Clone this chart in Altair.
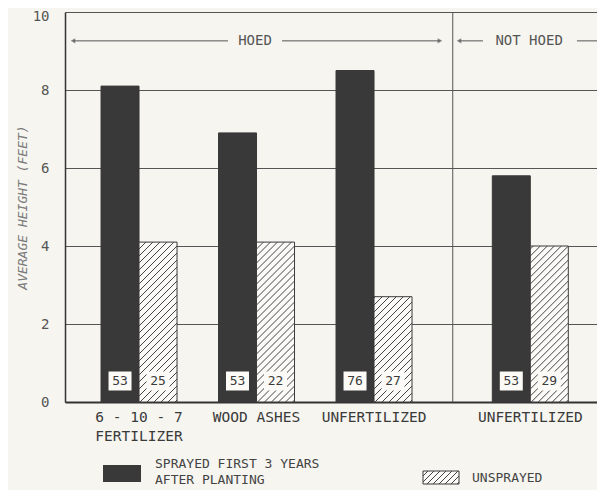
import altair as alt
import pandas as pd
import numpy as np

# ---------------- data ----------------
groups = ["6 - 10 - 7\nFERTILIZER", "WOOD ASHES", "UNFERTILIZED", "UNFERTILIZED"]
section = ["HOED", "HOED", "HOED", "NOT HOED"]
sprayed = [8.1, 6.9, 8.5, 5.8]
unsprayed = [4.1, 4.1, 2.7, 4.0]
n_sprayed = [53, 53, 76, 53]
n_unsprayed = [25, 22, 27, 29]
y_ticks = [0, 2, 4, 6, 8, 10]
legend_labels = ["SPRAYED FIRST 3 YEARS\nAFTER PLANTING", "UNSPRAYED"]
section_labels = ["HOED", "NOT  HOED"]

# ---------------- layout ----------------
W, H = 532, 390
PXU = 117.5                      # px per group unit
XMIN = 0.37
XMAX = XMIN + W / PXU
PYU = H / 10.0
group_pos = [1, 2, 3, 4.33]
DIVIDER = 3.67
BW = 38 / PXU                    # one bar width in x units
FONT = "DejaVu Sans Mono"
DARK = "#393939"
INK = "#3a3a3a"
BG = "#f6f5f0"

xs = alt.Scale(domain=[XMIN, XMAX], nice=False, zero=False)
ys = alt.Scale(domain=[0, 10], nice=False)

# bars
rows = []
for i, g in enumerate(groups):
    p = group_pos[i]
    rows.append(dict(g=i, kind="sprayed", x0=p - BW, x1=p, v=sprayed[i], n=n_sprayed[i]))
    rows.append(dict(g=i, kind="unsprayed", x0=p, x1=p + BW, v=unsprayed[i], n=n_unsprayed[i]))
bars = pd.DataFrame(rows)
bars["xc"] = (bars.x0 + bars.x1) / 2

# hatch segments for unsprayed bars (computed from bar extents)
STEP = 7.0
hrows = []
for _, r in bars[bars.kind == "unsprayed"].iterrows():
    w = (r.x1 - r.x0) * PXU
    h = r.v * PYU
    c = -w + 2
    while c < h:
        xa = max(0.0, -c)
        xb = min(w, h - c)
        if xb > xa:
            hrows.append(dict(x=r.x0 + xa / PXU, y=(xa + c) / PYU,
                              x2=r.x0 + xb / PXU, y2=(xb + c) / PYU))
        c += STEP
hatch = pd.DataFrame(hrows)

# number boxes
BOXW, BOXH, BOXC = 23, 19, 21
boxes = bars.copy()
boxes["bx0"] = boxes.xc - BOXW / 2 / PXU
boxes["bx1"] = boxes.xc + BOXW / 2 / PXU
boxes["by0"] = (BOXC - BOXH / 2) / PYU
boxes["by1"] = (BOXC + BOXH / 2) / PYU
boxes["by"] = BOXC / PYU

base = alt.Chart(bars)

dark_bars = base.transform_filter("datum.kind == 'sprayed'").mark_rect(
    fill=DARK, stroke=DARK, strokeWidth=1
).encode(
    x=alt.X("x0:Q", scale=xs, axis=alt.Axis(labels=False, ticks=False, grid=False,
                                            domainColor="#333", domainWidth=2, title=None)),
    x2="x1:Q",
    y=alt.Y("v:Q", scale=ys, axis=alt.Axis(values=y_ticks, grid=True, gridColor="#555",
                                           gridWidth=1, ticks=False, domainColor="#333",
                                           domainWidth=1.5, labelColor="#555", labelFontSize=14,
                                           labelFont=FONT, labelPadding=16,
                                           labelOffset=alt.condition("datum.value == 10",
                                                                     alt.value(4), alt.value(0)),
                                           title="AVERAGE  HEIGHT  (FEET)", titleFont=FONT,
                                           titleFontStyle="italic", titleFontWeight="normal",
                                           titleFontSize=13, titleColor="#7a7a7a",
                                           titlePadding=3)),
    y2=alt.datum(0),
)

hatch_bg = base.transform_filter("datum.kind == 'unsprayed'").mark_rect(
    fill="#fbfaf6", stroke=INK, strokeWidth=1
).encode(x=alt.X("x0:Q", scale=xs), x2="x1:Q", y=alt.Y("v:Q", scale=ys), y2=alt.datum(0))

hatch_lines = alt.Chart(hatch).mark_rule(color="#444", strokeWidth=1).encode(
    x=alt.X("x:Q", scale=xs), x2="x2:Q", y=alt.Y("y:Q", scale=ys), y2="y2:Q"
)

box_marks = alt.Chart(boxes).mark_rect(fill="#fbfaf6").encode(
    x=alt.X("bx0:Q", scale=xs), x2="bx1:Q", y=alt.Y("by0:Q", scale=ys), y2="by1:Q"
)
box_text = alt.Chart(boxes).mark_text(font=FONT, fontSize=13, color=INK, baseline="middle").encode(
    x=alt.X("xc:Q", scale=xs), y=alt.Y("by:Q", scale=ys), text="n:N"
)

divider = alt.Chart(pd.DataFrame({"x": [DIVIDER]})).mark_rule(color="#555", strokeWidth=1).encode(
    x=alt.X("x:Q", scale=xs), y=alt.datum(0), y2=alt.datum(10)
)

cat_labels = alt.Chart(pd.DataFrame({"x": group_pos, "t": groups})).mark_text(
    font=FONT, fontSize=14.5, color=INK, baseline="top", lineBreak="\n", lineHeight=19
).encode(x=alt.X("x:Q", scale=xs), y=alt.value(H + 9), text="t:N")

# section arrows
ARROW_Y = 9.26
sec = pd.DataFrame({
    "t": section_labels,
    "xc": [1.987, 4.32],
    "a": [0.438, 3.723],
    "ga": [1.757, 3.927],
    "gb": [2.217, 4.727],
    "b": [3.561, 4.94],
})
seg = pd.concat([
    sec[["a", "ga"]].rename(columns={"a": "x", "ga": "x2"}),
    sec[["gb", "b"]].rename(columns={"gb": "x", "b": "x2"}),
])
seg_rules = alt.Chart(seg).mark_rule(color="#555", strokeWidth=1).encode(
    x=alt.X("x:Q", scale=xs), x2="x2:Q", y=alt.datum(ARROW_Y)
)
left_heads = alt.Chart(sec).mark_point(shape="triangle-left", filled=True, color="#555", size=28).encode(
    x=alt.X("a:Q", scale=xs), y=alt.datum(ARROW_Y)
)
right_heads = alt.Chart(sec).mark_point(shape="triangle-right", filled=True, color="#555", size=28).encode(
    x=alt.X("b:Q", scale=xs), y=alt.datum(ARROW_Y)
)
sec_text = alt.Chart(sec).mark_text(font=FONT, fontSize=14, color="#555", baseline="middle").encode(
    x=alt.X("xc:Q", scale=xs), y=alt.datum(ARROW_Y), text="t:N"
)

# legend (drawn below the plot)
leg_dark = alt.Chart(pd.DataFrame({"k": [0]})).mark_rect(fill=DARK).encode(
    x=alt.value(38), x2=alt.value(76), y=alt.value(453), y2=alt.value(470)
)
leg_text1 = alt.Chart(pd.DataFrame({"t": [legend_labels[0]]})).mark_text(
    font=FONT, fontSize=13, color="#444", align="left", baseline="top", lineBreak="\n", lineHeight=16
).encode(x=alt.value(90), y=alt.value(446), text="t:N")

LBX0, LBX1, LBY0, LBY1 = 358, 394, 459, 472
hl = []
c = -(LBX1 - LBX0) + 2
while c < (LBY1 - LBY0):
    xa = max(0.0, -c)
    xb = min(LBX1 - LBX0, (LBY1 - LBY0) - c)
    if xb > xa:
        hl.append(dict(x=LBX0 + xa, y=LBY1 - (xa + c), x2=LBX0 + xb, y2=LBY1 - (xb + c)))
    c += 6
leg_hatch_bg = alt.Chart(pd.DataFrame({"k": [0]})).mark_rect(fill="#fbfaf6", stroke=INK, strokeWidth=1).encode(
    x=alt.value(LBX0), x2=alt.value(LBX1), y=alt.value(LBY0), y2=alt.value(LBY1)
)
leg_hatch = alt.Chart(pd.DataFrame(hl)).mark_rule(color="#444", strokeWidth=1).encode(
    x=alt.X("x:Q", scale=None), x2="x2:Q", y=alt.Y("y:Q", scale=None), y2="y2:Q"
)
leg_text2 = alt.Chart(pd.DataFrame({"t": [legend_labels[1]]})).mark_text(
    font=FONT, fontSize=13, color="#444", align="left", baseline="middle"
).encode(x=alt.value(407), y=alt.value(466), text="t:N")

chart = alt.layer(
    dark_bars, hatch_bg, hatch_lines, box_marks, box_text, divider, cat_labels,
    seg_rules, left_heads, right_heads, sec_text,
    leg_dark, leg_text1, leg_hatch_bg, leg_hatch, leg_text2,
).properties(
    width=W, height=H,
    autosize=alt.AutoSizeParams(type="none"),
    padding={"left": 57, "top": 4, "right": 0, "bottom": 88},
    background=BG,
).configure_view(stroke=None)

chart.save("out.html", embed_options={"renderer": "svg", "actions": False})
